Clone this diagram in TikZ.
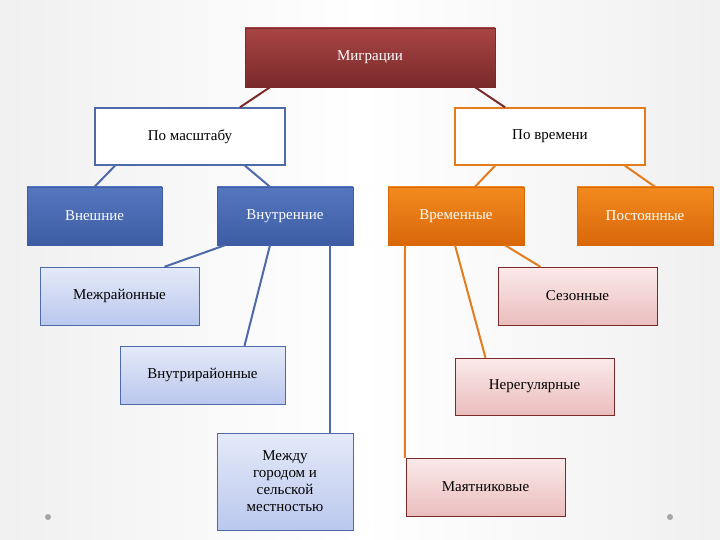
\documentclass[tikz,border=0pt]{standalone}
\usepackage{fontspec}
\setmainfont{Liberation Serif}
\definecolor{rtop}{HTML}{A84444}
\definecolor{rbot}{HTML}{7A2A2A}
\definecolor{btop}{HTML}{5577C0}
\definecolor{bbot}{HTML}{3D5CA3}
\definecolor{bline}{HTML}{4F6AA8}
\definecolor{lbtop}{HTML}{E4EAF8}
\definecolor{lbbot}{HTML}{BBC8EE}
\definecolor{otop}{HTML}{F28A1E}
\definecolor{obot}{HTML}{D9670A}
\definecolor{oline}{HTML}{E47C1E}
\definecolor{pktop}{HTML}{FBEAEA}
\definecolor{pkbot}{HTML}{EBBDBD}
\begin{document}
\begin{tikzpicture}[x=1pt,y=-1pt,
 bx/.style={draw,rectangle,align=center,font=\fontsize{15}{17}\selectfont,inner sep=2pt},
 red/.style={bx,draw=rbot,top color=rtop,bottom color=rbot,text=white},
 wb/.style={bx,draw=bline,line width=1.5pt,fill=white},
 wo/.style={bx,draw=oline,line width=1.5pt,fill=white},
 bb/.style={bx,draw=bbot,top color=btop,bottom color=bbot,text=white},
 ob/.style={bx,draw=obot,top color=otop,bottom color=obot,text=white},
 lb/.style={bx,draw=bline,top color=lbtop,bottom color=lbbot},
 pk/.style={bx,draw=rbot,top color=pktop,bottom color=pkbot},
 bl/.style={draw=bline,line width=2pt},
 ol/.style={draw=oline,line width=2pt},
 rl/.style={draw=rbot,line width=2pt}]
\useasboundingbox[shade,left color=gray!12,right color=gray!12,middle color=white] (0,0) rectangle (720,540);
\node[red,minimum width=250,minimum height=59] (m) at (370,57.5) {Миграции};
\node[wb,minimum width=190,minimum height=57] (pm) at (190,136.5) {По масштабу};
\node[wo,minimum width=190,minimum height=57] (pv) at (550,136.5) {По времени};
\node[bb,minimum width=135,minimum height=58] (vn) at (94.5,216) {Внешние};
\node[bb,minimum width=136,minimum height=58] (vt) at (285,216) {Внутренние};
\node[ob,minimum width=136,minimum height=58] (vr) at (456,216) {Временные};
\node[ob,minimum width=136,minimum height=58] (po) at (645,216) {Постоянные};
\node[lb,minimum width=159,minimum height=58] (mr) at (119.5,296) {Межрайонные};
\node[pk,minimum width=159,minimum height=58] (se) at (577.5,296) {Сезонные};
\node[lb,minimum width=165,minimum height=58] (vrn) at (202.5,375) {Внутрирайонные};
\node[pk,minimum width=159,minimum height=57] (ne) at (534.5,386.5) {Нерегулярные};
\node[lb,minimum width=136,minimum height=97] (mg) at (285,481.5) {Между\\городом и\\сельской\\местностью};
\node[pk,minimum width=159,minimum height=58] (ma) at (485.5,487) {Маятниковые};
\draw[rl] ([xshift=-100]m.south) -- ([xshift=50]pm.north);
\draw[rl] ([xshift=105]m.south) -- ([xshift=-45]pv.north);
\draw[bl] ([xshift=-75]pm.south) -- (vn.north);
\draw[bl] ([xshift=55]pm.south) -- ([xshift=-15]vt.north);
\draw[ol] ([xshift=-55]pv.south) -- ([xshift=19]vr.north);
\draw[ol] ([xshift=75]pv.south) -- ([xshift=10]po.north);
\draw[bl] ([xshift=-60]vt.south) -- ([xshift=45]mr.north);
\draw[bl] ([xshift=-15]vt.south) -- ([xshift=42]vrn.north);
\draw[bl] ([xshift=45]vt.south) -- ([xshift=45]mg.north);
\draw[ol] ([xshift=-51]vr.south) -- ([xshift=-1]ma.north west);
\draw[ol] ([xshift=-1]vr.south) -- ([xshift=-49]ne.north);
\draw[ol] ([xshift=49]vr.south) -- ([xshift=-37]se.north);
\fill[gray!70] (48,517) circle (3);
\fill[gray!70] (670,517) circle (3);
\end{tikzpicture}
\end{document}
